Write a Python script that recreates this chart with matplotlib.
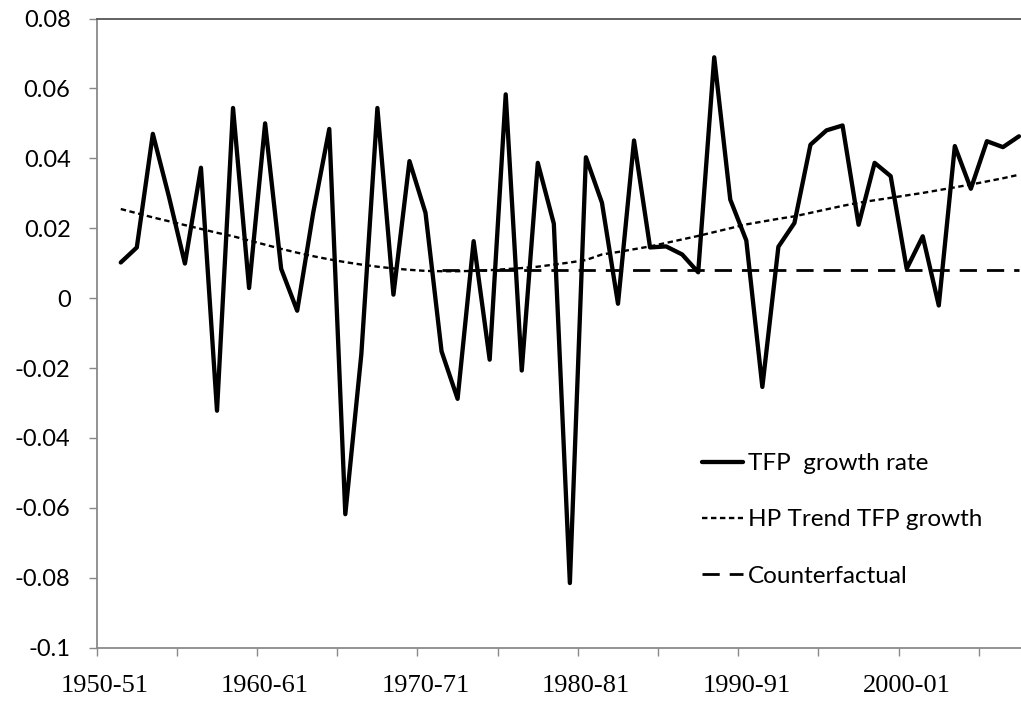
import matplotlib
matplotlib.use("Agg")
import matplotlib.pyplot as plt
import numpy as np

# ---- data ----
years_start = list(range(1950, 2008))          # categories 1950-51 ... 2007-08
tick_label_positions = [0, 10, 20, 30, 40, 50]
tick_labels = ["1950-51", "1960-61", "1970-71", "1980-81", "1990-91", "2000-01"]

# TFP growth rate, 1951-52 ... 2007-08
tfp_growth = [0.0102, 0.0145, 0.0470, 0.0291, 0.0099, 0.0373, -0.0322, 0.0544,
              0.0029, 0.0500, 0.0084, -0.0036, 0.0245, 0.0484, -0.0618, -0.0160,
              0.0544, 0.0010, 0.0392, 0.0244, -0.0152, -0.0288, 0.0163, -0.0176,
              0.0583, -0.0207, 0.0387, 0.0213, -0.0815, 0.0403, 0.0273, -0.0016,
              0.0451, 0.0145, 0.0148, 0.0125, 0.0074, 0.0689, 0.0282, 0.0165,
              -0.0254, 0.0147, 0.0215, 0.0439, 0.0480, 0.0494, 0.0210, 0.0387,
              0.0349, 0.0084, 0.0177, -0.0021, 0.0435, 0.0313, 0.0449, 0.0432,
              0.0463]

# HP trend TFP growth, 1951-52 ... 2007-08
hp_trend = [0.0255, 0.0243, 0.0231, 0.0220, 0.0209, 0.0198, 0.0187, 0.0177,
            0.0165, 0.0153, 0.0141, 0.0130, 0.0120, 0.0111, 0.0103, 0.0096,
            0.0090, 0.0085, 0.0081, 0.0078, 0.0077, 0.0077, 0.0078, 0.0080,
            0.0083, 0.0086, 0.0090, 0.0096, 0.0102, 0.0109, 0.0125, 0.0132,
            0.0140, 0.0148, 0.0158, 0.0168, 0.0178, 0.0189, 0.0200, 0.0211,
            0.0219, 0.0227, 0.0234, 0.0244, 0.0254, 0.0264, 0.0273, 0.0280,
            0.0287, 0.0294, 0.0301, 0.0309, 0.0317, 0.0325, 0.0334, 0.0343,
            0.0353]

# Counterfactual: constant from 1971-72 onwards
counterfactual_start = 21
counterfactual_value = 0.008

y_ticks = [0.08, 0.06, 0.04, 0.02, 0, -0.02, -0.04, -0.06, -0.08, -0.1]
y_tick_labels = ["0.08", "0.06", "0.04", "0.02", "0", "-0.02", "-0.04", "-0.06", "-0.08", "-0.1"]

# ---- figure ----
W, H = 1021, 706
fig = plt.figure(figsize=(W / 100, H / 100), dpi=100)
left_px, right_px, top_px, bottom_px = 96.7, 1027.0, 18.5, 647.7
ax = fig.add_axes([left_px / W, 1 - bottom_px / H,
                   (right_px - left_px) / W, (bottom_px - top_px) / H])

n_cat = len(years_start)
x_tfp = np.arange(1, 1 + len(tfp_growth))
x_hp = np.arange(1, 1 + len(hp_trend))
x_cf = np.arange(counterfactual_start, n_cat)
y_cf = np.full(len(x_cf), counterfactual_value)

ax.plot(x_cf, y_cf, color="black", lw=2.0, linestyle=(0, (6.2, 3.6)),
        label="Counterfactual", zorder=2)
ax.plot(x_hp, hp_trend, color="black", lw=1.7, linestyle=(0, (2.3, 1.5)),
        label="HP Trend TFP growth", zorder=3)
ax.plot(x_tfp, tfp_growth, color="black", lw=3.1, solid_joinstyle="round",
        solid_capstyle="round", label="TFP  growth rate", zorder=4)

ax.set_xlim(-0.5, n_cat - 0.5)
ax.set_ylim(-0.1, 0.08)

# y axis
ax.set_yticks(y_ticks)
ax.set_yticklabels(y_tick_labels, family="Lato", fontsize=17)
ax.tick_params(axis="y", direction="out", length=5.8, width=1.0,
               color="#898989", pad=13, labelcolor="black")

# x axis: ticks between categories every 5, labels every 10 categories
ax.set_xticks(np.arange(-0.5, n_cat, 5))
ax.set_xticklabels([])
ax.set_xticks(tick_label_positions, minor=True)
ax.set_xticklabels(tick_labels, minor=True, family="Liberation Serif", fontsize=19)
ax.tick_params(axis="x", which="major", direction="out", length=5.5, width=1.0,
               color="#898989")
ax.tick_params(axis="x", which="minor", length=0, pad=20)

for side in ["left", "bottom"]:
    ax.spines[side].set_color("#898989")
    ax.spines[side].set_linewidth(1.3)
ax.spines["top"].set_color("#555555")
ax.spines["top"].set_linewidth(1.3)
ax.spines["right"].set_visible(False)

handles, labels = ax.get_legend_handles_labels()
order = [2, 1, 0]
leg = ax.legend([handles[i] for i in order], [labels[i] for i in order],
                loc="upper left", bbox_to_anchor=(702 / W, 1 - 453 / H),
                bbox_transform=fig.transFigure, frameon=False,
                prop={"family": "Lato", "size": 17.5}, handlelength=1.69,
                handletextpad=0.2, labelspacing=1.45, borderaxespad=0,
                borderpad=0)

fig.savefig("out.png", dpi=100)
